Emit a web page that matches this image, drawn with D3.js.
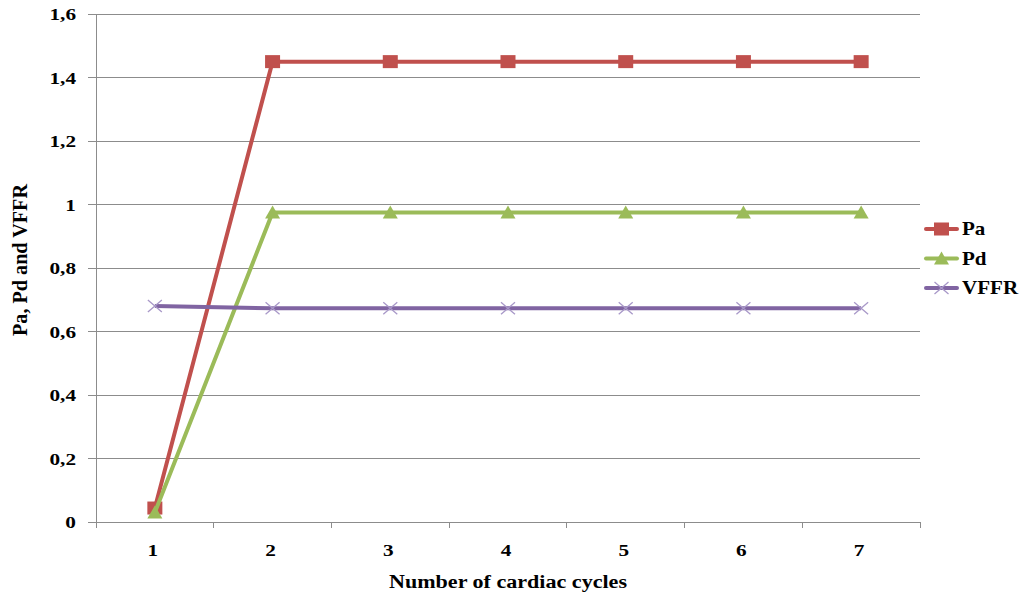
<!DOCTYPE html>
<html><head><meta charset="utf-8">
<script src="https://cdn.jsdelivr.net/npm/d3@7"></script>
<style>body{margin:0;background:#fff}svg{display:block}text{font-family:"Liberation Serif","Times New Roman",serif;font-weight:bold;fill:#000}</style>
</head><body><svg id="c" width="1023" height="594"></svg>
<script>
const categories = ["1","2","3","4","5","6","7"];
const paValues = [0.044, 1.45, 1.45, 1.45, 1.45, 1.45, 1.45];
const pdValues = [0.03, 0.975, 0.975, 0.975, 0.975, 0.975, 0.975];
const vffrValues = [0.68, 0.673, 0.673, 0.673, 0.673, 0.673, 0.673];
const yTicks = [0, 0.2, 0.4, 0.6, 0.8, 1, 1.2, 1.4, 1.6];
const seriesNames = ["Pa", "Pd", "VFFR"];

const series = [
  {name: seriesNames[0], values: paValues, color: "#C0504D", marker: "square"},
  {name: seriesNames[1], values: pdValues, color: "#9BBB59", marker: "triangle"},
  {name: seriesNames[2], values: vffrValues, color: "#8064A2", marker: "cross"}
];

const svg = d3.select("#c");
const L = 96, R = 920, T = 14, B = 522;
const x = d3.scaleBand().domain(categories).range([L, R]);
const y = d3.scaleLinear().domain([0, 1.6]).range([B, T]);
const SX = 1.25;
const fmt = d => String(d).replace(".", ",");

// gridlines
svg.append("g").selectAll("line").data(yTicks).join("line")
  .attr("x1", L - 8).attr("x2", R).attr("y1", d => y(d)).attr("y2", d => y(d))
  .attr("stroke", "#8c8c8c").attr("stroke-width", 1).attr("shape-rendering", "crispEdges");
// y axis line
svg.append("line").attr("x1", L).attr("x2", L).attr("y1", T).attr("y2", B + 5)
  .attr("stroke", "#8c8c8c").attr("shape-rendering", "crispEdges");
// x ticks at band boundaries
const bounds = categories.map(c => x(c)).concat([R]);
svg.append("g").selectAll("line").data(bounds).join("line")
  .attr("x1", d => d).attr("x2", d => d).attr("y1", B).attr("y2", B + 6)
  .attr("stroke", "#8c8c8c").attr("shape-rendering", "crispEdges");

// y tick labels
svg.append("g").selectAll("text").data(yTicks).join("text")
  .attr("transform", d => `translate(76,${y(d) + 6}) scale(${SX},1)`)
  .attr("text-anchor", "end").attr("font-size", 17).text(fmt);
// x tick labels
svg.append("g").selectAll("text").data(categories).join("text")
  .attr("transform", d => `translate(${x(d) + x.bandwidth() / 2 - 2},${556}) scale(${SX},1)`)
  .attr("text-anchor", "middle").attr("font-size", 17).text(d => d);

// axis titles
svg.append("text").attr("x", 508).attr("y", 588)
  .attr("text-anchor", "middle").attr("font-size", 18)
  .attr("textLength", 238).attr("lengthAdjust", "spacingAndGlyphs").text("Number of cardiac cycles");
svg.append("text").attr("transform", `translate(27,260) rotate(-90)`)
  .attr("text-anchor", "middle").attr("font-size", 20)
  .attr("textLength", 152).attr("lengthAdjust", "spacingAndGlyphs").text("Pa, Pd and VFFR");

const cx = c => x(c) + x.bandwidth() / 2;
function drawMarker(g, type, color, px, py) {
  if (type === "square") {
    g.append("rect").attr("x", px - 7.5).attr("y", py - 6.5).attr("width", 15).attr("height", 13).attr("fill", color);
  } else if (type === "triangle") {
    g.append("path").attr("d", `M${px},${py - 7}L${px + 7.5},${py + 6}L${px - 7.5},${py + 6}Z`).attr("fill", color);
  } else {
    g.append("path").attr("d", `M${px - 7},${py - 6}L${px + 7},${py + 6}M${px - 7},${py + 6}L${px + 7},${py - 6}`)
      .attr("stroke", "#a898c8").attr("stroke-width", 1.3).attr("fill", "none");
  }
}

const line = d3.line().x((d, i) => cx(categories[i])).y(d => y(d));
series.forEach(s => {
  const g = svg.append("g");
  g.append("path").attr("d", line(s.values)).attr("fill", "none")
    .attr("stroke", s.color).attr("stroke-width", 4).attr("stroke-linejoin", "round");
  s.values.forEach((v, i) => drawMarker(g, s.marker, s.color, cx(categories[i]), y(v)));
});

// legend
const lg = svg.append("g");
series.forEach((s, i) => {
  const ly = 229 + i * 29.5;
  lg.append("line").attr("x1", 926).attr("x2", 957).attr("y1", ly).attr("y2", ly)
    .attr("stroke", s.color).attr("stroke-width", 4).attr("stroke-linecap", "round");
  drawMarker(lg, s.marker, s.color, 941.5, ly);
  lg.append("text").attr("transform", `translate(962,${ly + 6}) scale(1.17,1)`)
    .attr("font-size", 18).text(s.name);
});
</script></body></html>
